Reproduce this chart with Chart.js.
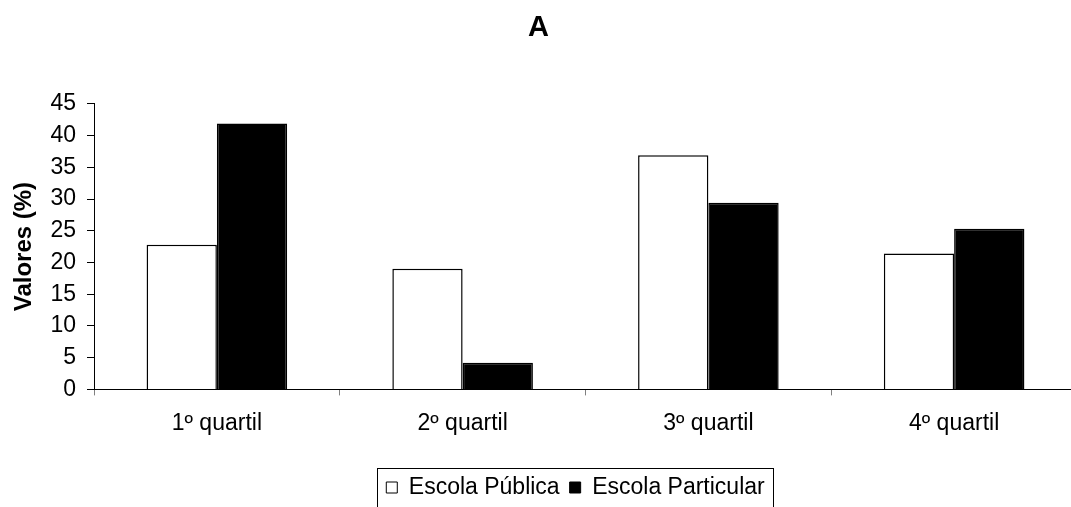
<!DOCTYPE html>
<html>
<head>
<meta charset="utf-8">
<script src="https://cdn.jsdelivr.net/npm/chart.js@4/dist/chart.umd.min.js"></script>
<style>
  html, body { margin: 0; padding: 0; background: #fff; overflow: hidden; }
  #wrap { width: 1083px; height: 507px; }
</style>
</head>
<body>
<div id="wrap"><canvas id="myChart" width="1083" height="507"></canvas></div>
<script>
const categories = ["1º quartil", "2º quartil", "3º quartil", "4º quartil"];
const publica = [22.8, 19.0, 36.9, 21.4];
const particular = [41.9, 4.2, 29.4, 25.3];
const yTicks = [0, 5, 10, 15, 20, 25, 30, 35, 40, 45];

const FONT = "'Liberation Sans', Arial, sans-serif";
const LEGEND_SHIFT = 37;

// legend sits a bit right of centre, with a frame round it
const legendBox = {
  id: "legendBox",
  afterLayout(chart) {
    chart.legend.left += LEGEND_SHIFT;
    chart.legend.right += LEGEND_SHIFT;
  },
  afterDraw(chart) {
    const boxes = chart.legend.legendHitBoxes;
    if (!boxes || !boxes.length) return;
    const first = boxes[0];
    const last = boxes[boxes.length - 1];
    const cy = first.top + first.height / 2;
    const left = Math.round(first.left) - 8.5;
    const right = Math.round(last.left + last.width) + 8.5;
    const c = chart.ctx;
    c.save();
    c.strokeStyle = "#000";
    c.lineWidth = 1;
    c.strokeRect(left, Math.round(cy) - 19.5, right - left, 42);
    c.restore();
  }
};

const ctx = document.getElementById("myChart").getContext("2d");

const myChart = new Chart(ctx, {
  type: "bar",
  data: {
    labels: categories,
    datasets: [
      {
        label: "Escola Pública",
        data: publica,
        backgroundColor: "#fff",
        borderColor: "#000",
        borderWidth: 1.5
      },
      {
        label: "Escola Particular",
        data: particular,
        backgroundColor: "#000",
        borderColor: "#000",
        borderWidth: 1.5
      }
    ]
  },
  options: {
    responsive: false,
    animation: false,
    layout: { padding: { left: 0, right: 6, top: 0, bottom: -2 } },
    datasets: {
      bar: { categoryPercentage: 0.572, barPercentage: 1.0 }
    },
    plugins: {
      title: {
        display: true,
        text: "A",
        color: "#000",
        font: { family: FONT, size: 29, weight: "bold" },
        padding: { top: 11, bottom: 58 }
      },
      legend: {
        position: "bottom",
        labels: {
          color: "#000",
          font: { family: FONT, size: 23 },
          boxWidth: 11,
          boxHeight: 11,
          padding: 10,
          generateLabels(chart) {
            return chart.data.datasets.map((ds, i) => ({
              text: ds.label,
              fillStyle: ds.backgroundColor,
              strokeStyle: "#000",
              lineWidth: 1,
              hidden: false,
              datasetIndex: i,
              fontColor: "#000"
            }));
          }
        }
      },
      tooltip: { enabled: false }
    },
    scales: {
      x: {
        afterFit(axis) {
          axis.height += 15;
        },
        grid: {
          display: true,
          offset: true,
          drawOnChartArea: false,
          drawTicks: true,
          tickLength: 6,
          color: "#808080"
        },
        border: { display: true, color: "#000", width: 1 },
        ticks: {
          color: "#000",
          font: { family: FONT, size: 23 },
          padding: 14
        }
      },
      y: {
        min: 0,
        max: 45,
        afterBuildTicks(axis) {
          axis.ticks = yTicks.map(v => ({ value: v }));
        },
        afterFit(axis) {
          axis.width = 94;
        },
        grid: {
          display: true,
          drawOnChartArea: false,
          drawTicks: true,
          tickLength: 7,
          color: "#000"
        },
        border: { display: true, color: "#000", width: 1 },
        ticks: {
          color: "#000",
          font: { family: FONT, size: 23 },
          padding: 11
        },
        title: {
          display: true,
          text: "Valores (%)",
          color: "#000",
          font: { family: FONT, size: 24, weight: "bold" },
          padding: { top: 10, bottom: 0 }
        }
      }
    }
  },
  plugins: [legendBox]
});
</script>
</body>
</html>
